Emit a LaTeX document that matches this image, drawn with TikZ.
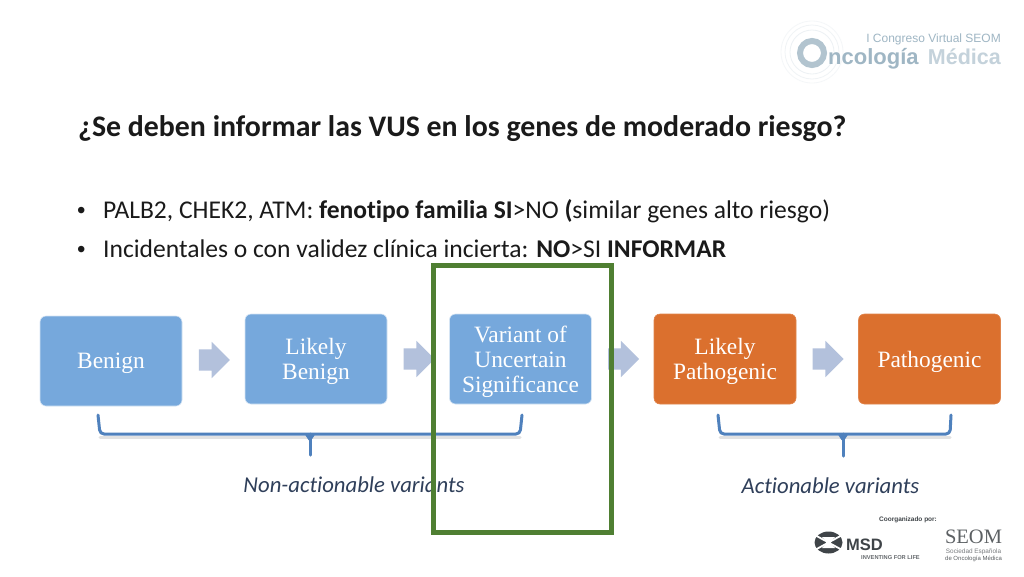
\documentclass[tikz,border=0pt]{standalone}
\usepackage{fontspec}
\setmainfont[Ligatures=NoCommon]{Carlito}
\newfontfamily\boxfont{Liberation Serif}
\newfontfamily\headfont{Liberation Sans}
\usetikzlibrary{shapes.arrows,calc}
\definecolor{blueb}{HTML}{76A8DC}
\definecolor{orangeb}{HTML}{DB702E}
\definecolor{arrowc}{HTML}{B3C1DC}
\definecolor{bracec}{HTML}{4F81BD}
\definecolor{greenb}{HTML}{4F7F32}
\definecolor{labelc}{HTML}{2F3F5A}
\definecolor{titlec}{HTML}{1A1A1A}
\definecolor{logoc}{HTML}{9FB6C4}
\definecolor{logol}{HTML}{C4D2DB}
\definecolor{msdc}{HTML}{3F4448}
\newcommand{\boxline}[1]{\raisebox{-2.5pt}[\height][\depth]{#1}}
\tikzset{
  x=1pt,y=-1pt,
  stepbox/.style={rounded corners=6pt,minimum width=142pt,minimum height=90pt,inner sep=0pt,
    text=white,align=center,font=\boxfont\fontsize{23.4}{25}\selectfont,draw=white!70!blueb,line width=.6pt},
  bluebox/.style={stepbox,fill=blueb},
  orangebox/.style={stepbox,fill=orangeb,draw=orangeb!85!white},
  blockarrow/.style={single arrow,fill=arrowc,draw=none,minimum height=31pt,xshift=-4.5pt,
    single arrow head extend=7.5pt,single arrow head indent=0pt,inner sep=0pt},
  bracel/.style={draw=bracec,line width=3pt,line cap=round,line join=round,rounded corners=4pt},
  braceshadow/.style={draw=black!22,line width=3pt,line cap=round,rounded corners=4pt},
  grouplabel/.style={font=\itshape\fontsize{22.7}{26}\selectfont,text=labelc,inner sep=0pt},
  txt/.style={anchor=base west,inner sep=0pt,text=titlec,font=\fontsize{25.55}{28}\selectfont},
}
\begin{document}
\begin{tikzpicture}
\useasboundingbox (0,0) rectangle (1024,576);
\fill[white] (0,0) rectangle (1024,576);

% text
\node[txt,font=\bfseries\fontsize{29.85}{34}\selectfont] (title) at (78,136) {¿Se deben informar las VUS en los genes de moderado riesgo?};
\node[txt,font=\headfont\fontsize{24}{28}\selectfont] (b1) at (77,218) {•};
\node[txt] (l1) at (103,218) {PALB2, CHEK2, ATM: \textbf{fenotipo familia SI}>NO \textbf{(}similar genes alto riesgo)};
\node[txt,font=\headfont\fontsize{24}{28}\selectfont] (b2) at (77,257) {•};
\node[txt] (l2) at (103,257) {Incidentales o con validez clínica incierta: \textbf{NO}>SI \textbf{INFORMAR}};

% boxes
\node[bluebox] (benign) at (111,361) {\boxline{Benign}};
\node[bluebox] (lbenign) at (316,359) {\boxline{Likely}\\\boxline{Benign}};
\node[bluebox] (vus) at (520.5,359) {\boxline{Variant of}\\\boxline{Uncertain}\\\boxline{Significance}};
\node[orangebox] (lpath) at (725,359) {\boxline{Likely}\\\boxline{Pathogenic}};
\node[orangebox] (path) at (929.5,359) {\boxline{Pathogenic}};

% block arrows
\node[blockarrow] (a1) at ($(benign.east)!.5!(lbenign.west)$) {\rule{0pt}{21pt}};
\node[blockarrow] (a2) at ($(lbenign.east)!.5!(vus.west)$) {\rule{0pt}{21pt}};
\node[blockarrow] (a3) at ($(vus.east)!.5!(lpath.west)$) {\rule{0pt}{21pt}};
\node[blockarrow] (a4) at ($(lpath.east)!.5!(path.west)$) {\rule{0pt}{21pt}};

% braces
\coordinate (n1) at (98,415);
\coordinate (n2) at (100,434);
\coordinate (n3) at (520,434);
\coordinate (n4) at (522,415);
\coordinate (n5) at (310,434);
\coordinate (n6) at (310,455);
\coordinate (m1) at (718,415);
\coordinate (m2) at (720,434);
\coordinate (m3) at (950,434);
\coordinate (m4) at (951,415);
\coordinate (m5) at (843,434);
\coordinate (m6) at (843,456);
\draw[braceshadow,opacity=.5] ($(n2)+(0,3)$) -- ($(n3)+(0,3)$);
\draw[braceshadow,opacity=.5] ($(m2)+(0,3)$) -- ($(m3)+(0,3)$);
\draw[bracel] (n1) -- (n2) -- (n3) -- (n4);
\draw[bracel,rounded corners=0pt] (n5) -- (n6);
\draw[bracel] (m1) -- (m2) -- (m3) -- (m4);
\draw[bracel,rounded corners=0pt] (m5) -- (m6);
\fill[bracec] (304,433) -- (316,433) -- (311.5,440) -- (308.5,440) -- cycle;
\fill[bracec] (837,433) -- (849,433) -- (844.5,440) -- (841.5,440) -- cycle;

\node[grouplabel] (nonact) at (354,485) {Non-actionable variants};
\node[grouplabel] (act) at (830.5,486) {Actionable variants};

% highlight frame
\node[draw=greenb,line width=5pt,minimum width=178pt,minimum height=267pt,inner sep=0pt,fill=none] (frame) at (522.5,399) {};

% top logo
\foreach \r/\o in {22/.3,27/.25,31/.18}
  \draw[logol,opacity=\o,line width=.8pt] (812,52) circle (\r);
\draw[logoc,line width=6pt,opacity=.8] (812,53) circle (12);
\node[anchor=base east,inner sep=0pt,text=logoc,font=\headfont\fontsize{12}{14}\selectfont] (cong) at (1001,42) {I Congreso Virtual SEOM};
\node[anchor=base west,inner sep=0pt,text=logoc,font=\headfont\bfseries\fontsize{22}{24}\selectfont] (onc) at (828,64) {ncología};
\node[anchor=base east,inner sep=0pt,text=logol,font=\headfont\bfseries\fontsize{21.5}{24}\selectfont] (med) at (1001,64) {Médica};

% bottom logos
\node[anchor=base,inner sep=0pt,text=msdc,font=\headfont\bfseries\fontsize{6.5}{8}\selectfont] (coorg) at (908,521) {Coorganizado por:};
\fill[msdc] (828.5,542.5) ellipse (14 and 11);
\draw[white,line width=1.8pt] (813,534) -- (844,551) (844,534) -- (813,551);
\fill[white] (822,537) -- (835,537) -- (830,542.5) -- (835,548) -- (822,548) -- (827,542.5) -- cycle;
\node[anchor=base west,inner sep=0pt,text=msdc,font=\headfont\bfseries\fontsize{16.5}{18}\selectfont] (msd) at (846,550) {MSD};
\node[anchor=base west,inner sep=0pt,text=msdc!80!white,font=\headfont\bfseries\fontsize{5.7}{6}\selectfont] (inv) at (861,559) {INVENTING FOR LIFE};
\node[anchor=base,inner sep=0pt,text=msdc!85!white,font=\boxfont\fontsize{20.5}{22}\selectfont] (seom) at (973.5,543) {SEOM};
\node[anchor=base,inner sep=0pt,text=msdc!70!white,font=\headfont\fontsize{6.4}{7}\selectfont] (se1) at (973.5,553) {Sociedad Española};
\node[anchor=base,inner sep=0pt,text=msdc!85!white,font=\headfont\fontsize{6}{7}\selectfont] (se2) at (973.5,560) {de Oncología Médica};
\end{tikzpicture}
\end{document}
